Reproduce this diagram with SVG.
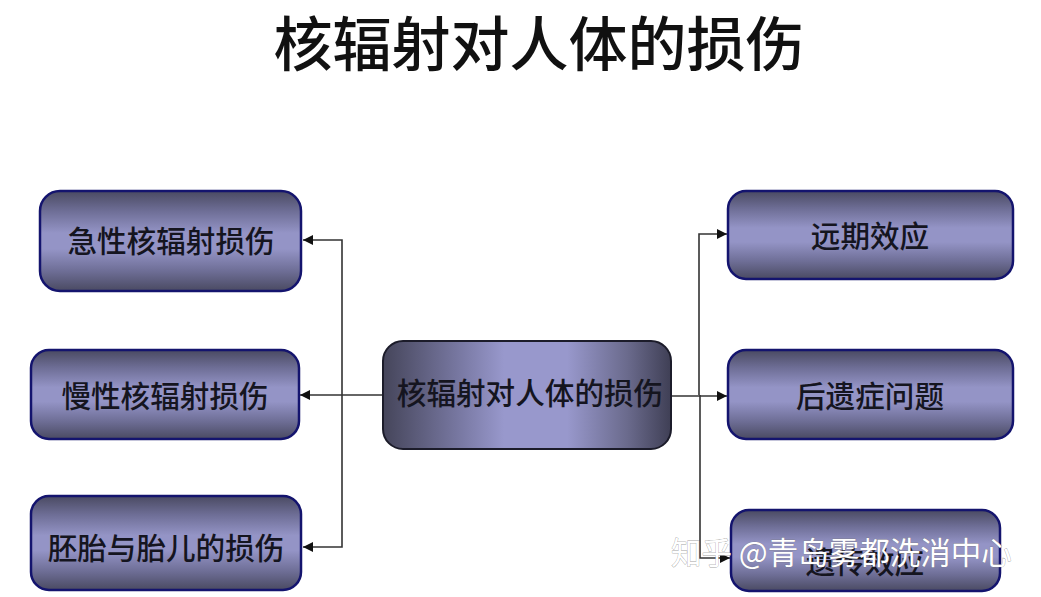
<svg xmlns="http://www.w3.org/2000/svg" width="1041" height="597" viewBox="0 0 1041 597">
<style>
text{font-family:"Noto Sans CJK SC","Noto Sans CJK TC",sans-serif;text-anchor:middle}
.title{font-size:59px;font-weight:500;fill:#111}
.lbl{font-size:29.6px;font-weight:500;fill:#15151f}
.box{fill:url(#v);stroke:#14146e;stroke-width:2.5}
.conn{fill:none;stroke:#333;stroke-width:1.6}
.wm{font-size:30.5px;fill:#fff;stroke:#777;stroke-width:.5;text-anchor:start;paint-order:stroke}
</style>
<defs>
<linearGradient id="v" x1="0" y1="0" x2="0" y2="1">
<stop offset="0" stop-color="#4a4a62"/><stop offset=".2" stop-color="#6e6e96"/><stop offset=".42" stop-color="#9494c6"/><stop offset=".58" stop-color="#9494c6"/><stop offset=".8" stop-color="#6e6e96"/><stop offset="1" stop-color="#4a4a62"/>
</linearGradient>
<linearGradient id="h" x1="0" y1="0" x2="1" y2="0">
<stop offset="0" stop-color="#45455a"/><stop offset=".28" stop-color="#7b7ba6"/><stop offset=".42" stop-color="#9898cc"/><stop offset=".64" stop-color="#9898cc"/><stop offset=".85" stop-color="#6a6a8c"/><stop offset="1" stop-color="#3f3f55"/>
</linearGradient>
<marker id="a" markerUnits="userSpaceOnUse" markerWidth="11" markerHeight="10" refX="10" refY="5" orient="auto"><path d="M0 0L10 5L0 10Z" fill="#111"/></marker>
</defs>
<text class="title" x="539" y="66">核辐射对人体的损伤</text>
<g id="connectors">
<path class="conn" d="M342 395V240H303" marker-end="url(#a)"/>
<path class="conn" d="M342 395V547H303" marker-end="url(#a)"/>
<path class="conn" d="M383 395H300" marker-end="url(#a)"/>
<path class="conn" d="M699 395V234H727" marker-end="url(#a)"/>
<path class="conn" d="M700 395V558H730" marker-end="url(#a)"/>
<path class="conn" d="M671 396H727" marker-end="url(#a)"/>
</g>
<g id="n1"><rect class="box" x="40" y="191" width="261" height="100" rx="20"/><text class="lbl" x="171" y="252">急性核辐射损伤</text></g>
<g id="n2"><rect class="box" x="31" y="350" width="268" height="89" rx="18"/><text class="lbl" x="165" y="407">慢性核辐射损伤</text></g>
<g id="n3"><rect class="box" x="31" y="496" width="270" height="94" rx="18"/><text class="lbl" x="166" y="559">胚胎与胎儿的损伤</text></g>
<g id="n4"><rect x="383" y="341" width="288" height="108" rx="20" fill="url(#h)" stroke="#1c1c2a" stroke-width="2"/><text class="lbl" x="530" y="404">核辐射对人体的损伤</text></g>
<g id="n5"><rect class="box" x="728" y="191" width="285" height="88" rx="18"/><text class="lbl" x="870" y="247">远期效应</text></g>
<g id="n6"><rect class="box" x="728" y="350" width="285" height="89" rx="18"/><text class="lbl" x="870" y="407">后遗症问题</text></g>
<g id="n7"><rect class="box" x="731" y="510" width="269" height="81" rx="18"/><text class="lbl" x="865" y="573">遗传效应</text></g>
<text class="wm" x="671" y="564">知乎 @青岛雾都洗消中心</text>
</svg>
